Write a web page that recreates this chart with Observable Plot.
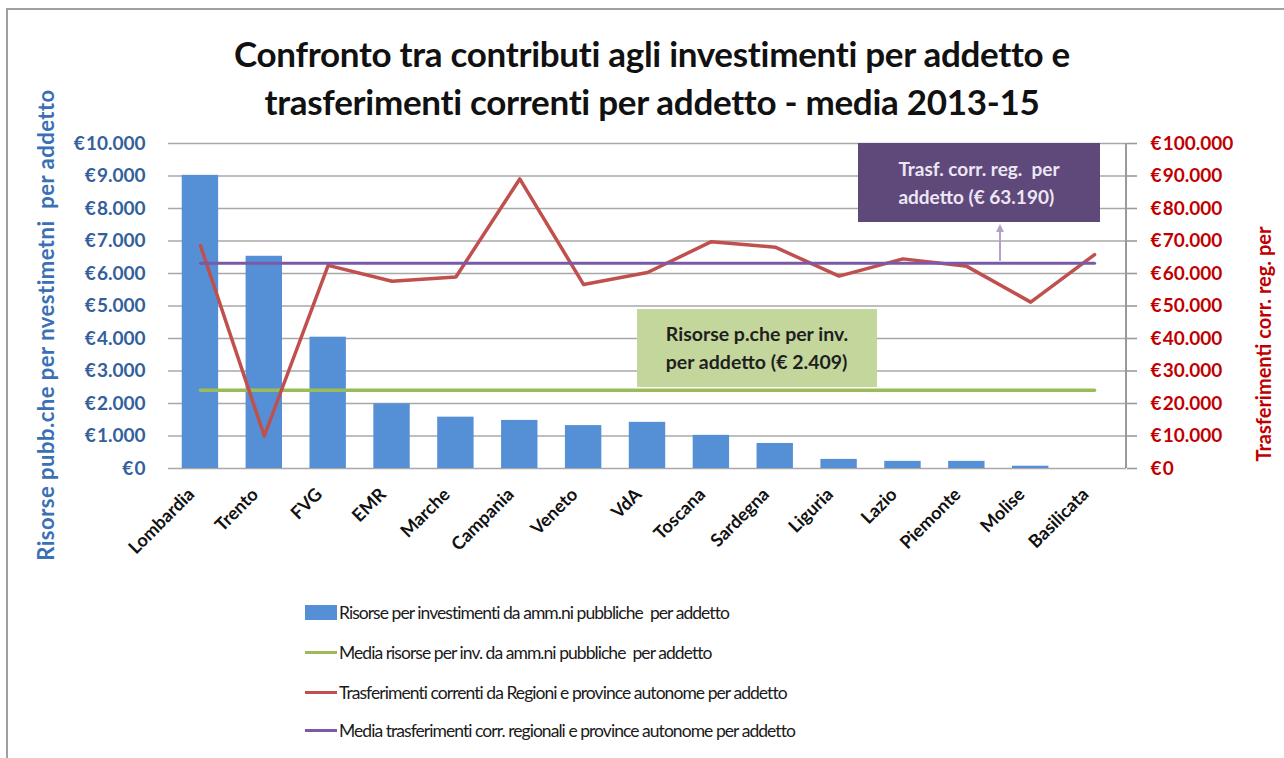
<!DOCTYPE html>
<html>
<head>
<meta charset="utf-8">
<script src="https://cdn.jsdelivr.net/npm/d3@7"></script>
<script src="https://cdn.jsdelivr.net/npm/@observablehq/plot@0.6"></script>
<style>
  html, body { margin: 0; padding: 0; background: #fff; }
  #wrap { position: relative; width: 1284px; height: 758px; overflow: hidden; font-family: Lato, "Open Sans", sans-serif; }
  #frame { position: absolute; left: 6px; top: 8px; right: -4px; bottom: -4px; border-left: 2px solid #a0a0a0; border-top: 2px solid #a0a0a0; }
  #chart { position: absolute; left: 0; top: 0; }
  .title { position: absolute; left: 0; width: 1304px; text-align: center; font-weight: bold; font-size: 35px; color: #111; white-space: nowrap; letter-spacing: -0.3px; }
  .ytitle { position: absolute; transform: translate(-50%, -50%) rotate(-90deg); font-weight: bold; white-space: pre; }
  .box { position: absolute; display: flex; flex-direction: column; justify-content: center; align-items: center; font-weight: bold; line-height: 28px; white-space: pre; }
  .leg { position: absolute; left: 305px; font-size: 17.5px; letter-spacing: -0.95px; color: #1a1a1a; white-space: pre; display: flex; align-items: center; height: 24px; }
  .sw { display: inline-block; width: 32px; margin-right: 2px; }
  #over { position: absolute; left: 0; top: 0; pointer-events: none; }
</style>
</head>
<body>
<div id="wrap">
  <div id="frame"></div>
  <div class="title" style="top:32px">Confronto tra contributi agli investimenti per addetto e</div>
  <div class="title" style="top:80px">trasferimenti correnti per addetto - media 2013-15</div>
</div>
<script>
// ---- data ----
const regions = ["Lombardia","Trento","FVG","EMR","Marche","Campania","Veneto","VdA","Toscana","Sardegna","Liguria","Lazio","Piemonte","Molise","Basilicata"];
const risorse = [9020, 6530, 4040, 1990, 1580, 1480, 1320, 1420, 1020, 770, 280, 220, 220, 70, 0];
const trasferimenti = [68600, 10000, 62500, 57600, 58900, 89100, 56600, 60300, 69800, 68100, 59200, 64500, 62200, 51200, 65800];
const mediaRisorse = 2409;
const mediaTrasferimenti = 63190;
const leftTicks = [0, 1000, 2000, 3000, 4000, 5000, 6000, 7000, 8000, 9000, 10000];
const rightTicks = [0, 10000, 20000, 30000, 40000, 50000, 60000, 70000, 80000, 90000, 100000];
const legendLabels = [
  "Risorse per investimenti da amm.ni pubbliche  per addetto",
  "Media risorse per inv. da amm.ni pubbliche  per addetto",
  "Trasferimenti correnti da Regioni e province autonome per addetto",
  "Media trasferimenti corr. regionali e province autonome per addetto"
];
const leftTitle = "Risorse pubb.che per nvestimetni  per addetto";
const rightTitle = "Trasferimenti corr. reg. per";
const boxPurple = ["Trasf. corr. reg.  per", "addetto (€ 63.190)"];
const boxGreen = ["Risorse p.che per inv.", "per addetto (€ 2.409)"];

// ---- colors ----
const cBar = "#5590d6", cGreen = "#9bbb59", cRed = "#c0504d", cPurple = "#7a5aa8";
const ratio = rightTicks[rightTicks.length - 1] / leftTicks[leftTicks.length - 1];

const table = regions.map((r, i) => ({region: r, risorse: risorse[i], trasf: trasferimenti[i] / ratio, mR: mediaRisorse, mT: mediaTrasferimenti / ratio}));
const fmtNum = d3.format(",");
const euro = v => "€\u200A" + fmtNum(v).replace(/,/g, ".");

const rightAxisLine = (index, scales, values, dims) => {
  const x = dims.width - dims.marginRight;
  const l = document.createElementNS("http://www.w3.org/2000/svg", "line");
  l.setAttribute("x1", x); l.setAttribute("x2", x);
  l.setAttribute("y1", dims.marginTop); l.setAttribute("y2", dims.height - dims.marginBottom);
  l.setAttribute("stroke", "#9a9a9a"); l.setAttribute("stroke-width", 2);
  return l;
};

const chart = Plot.plot({
  width: 1284, height: 758,
  marginLeft: 168, marginRight: 158, marginTop: 143, marginBottom: 290,
  style: {fontFamily: "Lato, sans-serif", background: "transparent", overflow: "visible"},
  x: {domain: regions, paddingInner: 0.43, paddingOuter: 0.215, round: false, label: null},
  y: {domain: [0, 10000], label: null},
  marks: [
    Plot.gridY(leftTicks, {stroke: "#a8a8a8", strokeOpacity: 1, strokeWidth: 1.6}),
    Plot.barY(table, {x: "region", y: "risorse", fill: cBar}),
    Plot.line(table, {x: "region", y: "mR", stroke: cGreen, strokeWidth: 3.5}),
    Plot.line(table, {x: "region", y: "trasf", stroke: cRed, strokeWidth: 3.5}),
    Plot.line(table, {x: "region", y: "mT", stroke: cPurple, strokeWidth: 3}),
    rightAxisLine,
    Plot.axisY(leftTicks, {anchor: "left", tickSize: 0, tickPadding: 23, tickFormat: euro, color: "#33609c", fontSize: 19, fontWeight: "bold", label: null}),
    Plot.axisY(leftTicks, {anchor: "right", tickSize: 10, tickPadding: 14, tickFormat: (d, i) => euro(rightTicks[i]), color: "#c00000", stroke: "#9a9a9a", strokeWidth: 1.6, fontSize: 19, fontWeight: "bold", label: null}),
    Plot.axisX({tickRotate: -45, tickSize: 0, tickPadding: 14, dx: -9, dy: 9, fontSize: 18, fontWeight: "bold", color: "#111", label: null})
  ]
});
chart.id = "chart";
const wrap = document.getElementById("wrap");
wrap.appendChild(chart);

function addDiv(cls, html, style) {
  const d = document.createElement("div");
  d.className = cls; d.innerHTML = html; Object.assign(d.style, style);
  wrap.appendChild(d); return d;
}
// axis titles
addDiv("ytitle", leftTitle, {left: "45px", top: "325px", color: "#3a70b5", fontSize: "22px", letterSpacing: "0.5px"});
addDiv("ytitle", rightTitle, {left: "1263px", top: "344px", color: "#c00000", fontSize: "20px"});

// annotation boxes
addDiv("box", boxPurple.join("\n"), {left: "858px", top: "143px", width: "242px", height: "79px", background: "#5f497a", color: "#ece6f4", fontSize: "19px"});
addDiv("box", boxGreen.join("\n"), {left: "637px", top: "309px", width: "240px", height: "78px", background: "#c3d69b", color: "#1f1f1f", fontSize: "19.5px"});

// arrow from the purple mean line to its box
const ys = chart.scale("y");
const yMean = ys.apply(mediaTrasferimenti / ratio);
const svgNS = "http://www.w3.org/2000/svg";
const over = document.createElementNS(svgNS, "svg");
over.setAttribute("id", "over"); over.setAttribute("width", 1284); over.setAttribute("height", 758);
over.innerHTML = `<defs><marker id="ah" viewBox="0 0 10 10" refX="5" refY="5" markerWidth="4" markerHeight="4" orient="auto"><path d="M0,0 L10,5 L0,10 z" fill="#b3a2c7"/></marker></defs>
<line x1="1000" x2="1000" y1="${yMean - 2}" y2="228" stroke="#b3a2c7" stroke-width="2" marker-end="url(#ah)"/>`;
wrap.appendChild(over);

// legend
const legTops = [600, 640, 680, 718];
legendLabels.forEach((t, i) => {
  const sw = i === 0
    ? `<span class="sw" style="height:15px;background:${cBar}"></span>`
    : `<span class="sw" style="height:3px;background:${[cGreen, cRed, cPurple][i - 1]}"></span>`;
  addDiv("leg", sw + `<span>${t}</span>`, {top: legTops[i] + "px"});
});
</script>
</body>
</html>
